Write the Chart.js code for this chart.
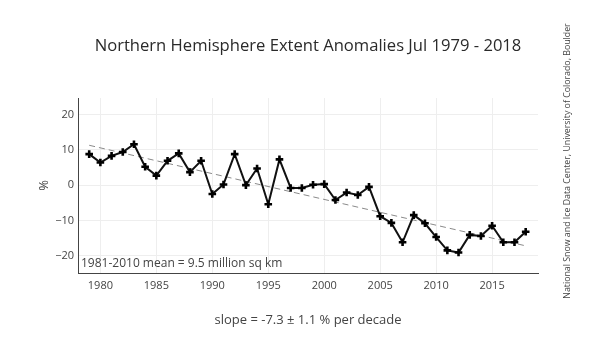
<!DOCTYPE html>
<html><head><meta charset="utf-8">
<script src="https://cdn.jsdelivr.net/npm/chart.js@4/dist/chart.umd.min.js"></script>
<style>html,body{margin:0;padding:0;background:#fff;}#wrap{width:616px;height:352px;position:relative;}</style>
</head><body><div id="wrap"><canvas id="c" width="616" height="352"></canvas></div>
<script>
// values
var years=[1979,1980,1981,1982,1983,1984,1985,1986,1987,1988,1989,1990,1991,1992,1993,1994,1995,1996,1997,1998,
	1999,2000,2001,2002,2003,2004,2005,2006,2007,2008,2009,2010,2011,2012,2013,2014,2015,2016,2017,2018];
var anomalies=[8.8,6.4,8.3,9.4,11.6,5.2,2.7,6.9,9.0,3.7,6.9,-2.5,0.2,8.8,0.0,4.7,-5.4,7.3,-0.8,-0.8,
	0.1,0.3,-4.2,-2.1,-2.8,-0.5,-8.8,-10.7,-16.2,-8.5,-10.8,-14.7,-18.5,-19.1,-14.1,-14.4,-11.5,-16.2,-16.2,-13.2];
var trendYears=[1979,2018];
var trendValues=[11.3,-17.2];
var xTicks=[1980,1985,1990,1995,2000,2005,2010,2015];
var yTicks=[-20,-10,0,10,20];
var txt={title:'Northern Hemisphere Extent Anomalies Jul 1979 - 2018',
	mean:'1981-2010 mean = 9.5 million sq km',slope:'slope = -7.3 ± 1.1 % per decade',
	credit:'National Snow and Ice Data Center, University of Colorado, Boulder',ytitle:'%'};
var FONT='"Open Sans", "DejaVu Sans", sans-serif';
var pts=function(xs,ys){var o=[];for(let i=0;i<xs.length;i++){o.push({x:xs[i],y:ys[i]});}return o;};
var setTicks=function(list){return function(sc){sc.ticks=list.map(function(v){return {value:v}});};};

var textPlugin={id:'texts',afterDraw:function(ch){var c=ch.ctx;var a=ch.chartArea;c.save();
	c.fillStyle='#444';c.textAlign='center';c.textBaseline='middle';
	c.save();c.fillStyle='#2a2a2a';c.font='16.6px '+FONT;c.fillText(txt.title,308,46);c.restore();
	c.font='13px '+FONT;c.fillText(txt.slope,308,320);
	c.textAlign='left';c.font='12px '+FONT;c.fillText(txt.mean,a.left+3,264);
	c.save();c.translate(44,(a.top+a.bottom)/2);c.rotate(-Math.PI/2);c.textAlign='center';c.font='13px '+FONT;c.fillText(txt.ytitle,0,0);c.restore();
	c.save();c.translate(567,161);c.rotate(-Math.PI/2);c.textAlign='center';c.font='8.8px '+FONT;c.fillText(txt.credit,0,0);c.restore();
	c.restore();}};

new Chart(document.getElementById('c'),{type:'line',
	data:{datasets:[
		{data:pts(years,anomalies),borderColor:'#111',borderWidth:2,tension:0,pointStyle:'cross',pointRadius:3.8,
			pointBorderWidth:2.6,pointBorderColor:'#000',pointBackgroundColor:'#000',order:1},
		{data:pts(trendYears,trendValues),borderColor:'#8a8a8a',borderWidth:1,borderDash:[6,4],pointRadius:0,order:2}
	]},
	options:{responsive:false,animation:false,events:[],
		layout:{padding:{left:0,top:98,right:78,bottom:0}},
		plugins:{legend:{display:false},tooltip:{enabled:false}},
		scales:{
			x:{type:'linear',min:1978,max:2019.1,afterBuildTicks:setTicks(xTicks),
				afterFit:function(s){s.height=79;},
				grid:{color:'#eee',drawTicks:false},border:{color:'#444',width:1},
				ticks:{padding:6,color:'#444',font:{family:FONT,size:11},callback:function(v){return String(v);}}},
			y:{min:-24.9,max:24.7,afterBuildTicks:setTicks(yTicks),
				afterFit:function(s){s.width=78;},
				grid:{color:'#eee',drawTicks:false},border:{color:'#444',width:1},
				ticks:{padding:4,color:'#444',font:{family:FONT,size:11},callback:function(v){return String(v).replace('-','\u2212');}}}
		}},
	plugins:[textPlugin]});
</script></body></html>
